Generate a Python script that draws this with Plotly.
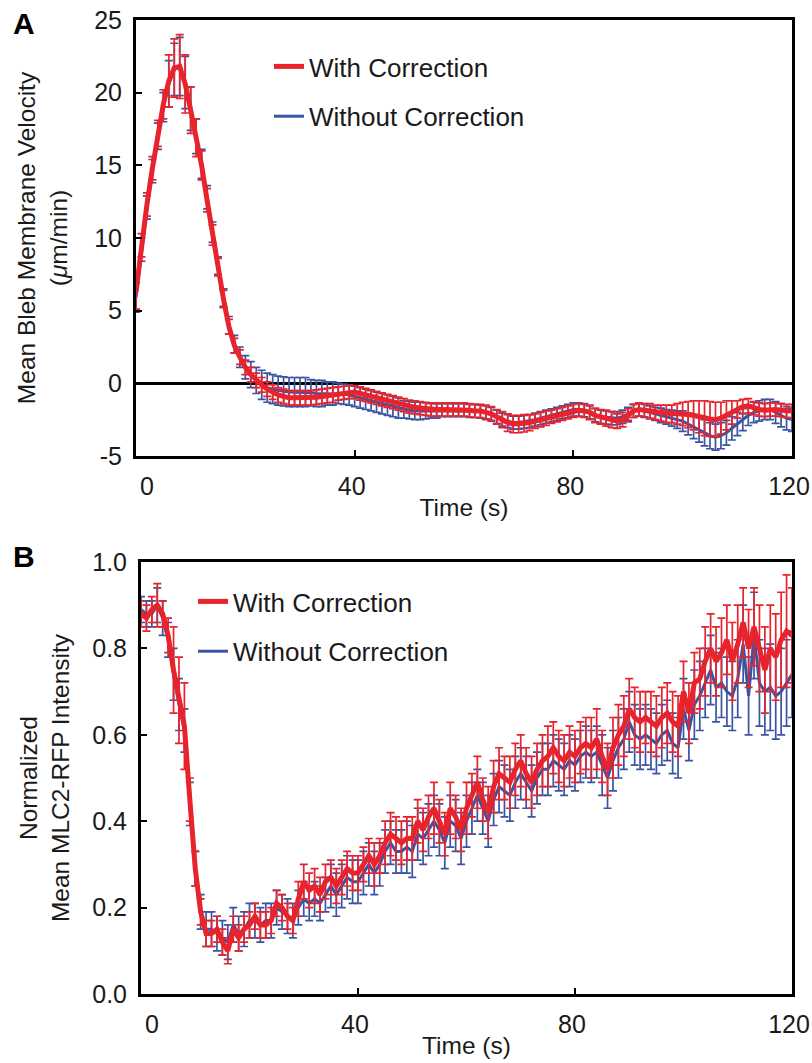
import plotly.graph_objects as go

# ---------------- DATA ----------------
time_s = list(range(0, 121))

# Panel A: mean bleb membrane velocity (um/min)
vel_with = [6.3, 9.5, 12.3, 14.8, 17.2, 19.2, 20.8, 21.7, 21.8, 20.6,
            18.8, 16.9, 15.0, 12.6, 10.2, 8.0, 5.8, 3.9, 2.6, 1.8,
            1.1, 0.6, 0.2, -0.1, -0.4, -0.6, -0.8, -0.9, -1.0, -1.0,
            -1.0, -1.0, -1.0, -0.95, -0.9, -0.85, -0.8, -0.7, -0.65, -0.6,
            -0.6, -0.7, -0.8, -0.9, -1.0, -1.1, -1.2, -1.3, -1.4, -1.5,
            -1.6, -1.65, -1.7, -1.75, -1.8, -1.8, -1.8, -1.8, -1.8, -1.8,
            -1.8, -1.85, -1.9, -1.9, -2.0, -2.1, -2.3, -2.5, -2.7, -2.8,
            -2.8, -2.75, -2.7, -2.6, -2.5, -2.4, -2.3, -2.2, -2.1, -2.0,
            -1.9, -1.85, -1.9, -2.0, -2.2, -2.3, -2.4, -2.5, -2.6, -2.5,
            -2.2, -1.9, -1.8, -1.85, -1.9, -2.0, -2.05, -2.1, -2.1, -2.1,
            -2.1, -2.15, -2.2, -2.3, -2.4, -2.45, -2.5, -2.4, -2.2, -2.0,
            -1.8, -1.6, -1.55, -1.7, -1.8, -1.85, -1.8, -1.8, -1.85, -1.9,
            -1.9]
vel_with_err = [1.2, 0.8, 0.8, 0.8, 0.9, 1.0, 1.8, 2.0, 2.2, 2.0,
                1.6, 1.3, 1.0, 0.8, 0.7, 0.6, 0.6, 0.5, 0.5, 0.5,
                0.5, 0.5, 0.5, 0.5, 0.5, 0.5, 0.5, 0.5, 0.5, 0.5,
                0.5, 0.5, 0.5, 0.5, 0.5, 0.5, 0.5, 0.45, 0.45, 0.45,
                0.45, 0.45, 0.45, 0.45, 0.45, 0.45, 0.45, 0.45, 0.45, 0.45,
                0.45, 0.45, 0.45, 0.45, 0.45, 0.45, 0.45, 0.45, 0.45, 0.45,
                0.45, 0.45, 0.45, 0.45, 0.5, 0.5, 0.5, 0.55, 0.6, 0.6,
                0.6, 0.6, 0.55, 0.5, 0.5, 0.5, 0.45, 0.45, 0.45, 0.45,
                0.45, 0.45, 0.45, 0.5, 0.5, 0.5, 0.55, 0.55, 0.5, 0.5,
                0.45, 0.45, 0.45, 0.45, 0.5, 0.5, 0.55, 0.6, 0.6, 0.7,
                0.8, 0.9, 1.0, 1.1, 1.2, 1.2, 1.2, 1.1, 1.0, 0.8,
                0.6, 0.5, 0.5, 0.45, 0.45, 0.45, 0.45, 0.45, 0.45, 0.45,
                0.45]
vel_without = [5.9, 9.2, 12.1, 14.6, 17.0, 19.0, 20.6, 21.6, 21.8, 20.7,
               18.9, 17.0, 15.1, 12.8, 10.4, 8.1, 5.9, 4.0, 2.7, 1.8,
               1.1, 0.6, 0.2, -0.1, -0.3, -0.4, -0.5, -0.55, -0.6, -0.6,
               -0.6, -0.6, -0.65, -0.7, -0.7, -0.7, -0.7, -0.7, -0.75, -0.8,
               -0.9, -1.0, -1.1, -1.2, -1.3, -1.4, -1.5, -1.6, -1.7, -1.8,
               -1.85, -1.9, -1.9, -1.9, -1.9, -1.9, -1.85, -1.85, -1.85, -1.85,
               -1.85, -1.9, -1.9, -1.95, -2.0, -2.1, -2.3, -2.5, -2.6, -2.7,
               -2.7, -2.65, -2.6, -2.5, -2.4, -2.3, -2.2, -2.1, -2.0, -1.9,
               -1.8, -1.8, -1.85, -2.0, -2.2, -2.3, -2.35, -2.4, -2.4, -2.3,
               -2.1, -1.9, -1.8, -1.9, -2.0, -2.1, -2.2, -2.3, -2.4, -2.5,
               -2.6, -2.8, -3.0, -3.2, -3.4, -3.6, -3.7, -3.6, -3.4, -3.1,
               -2.8, -2.5, -2.2, -2.0, -1.9, -1.8, -1.8, -2.0, -2.2, -2.4,
               -2.5]
vel_without_err = [1.0, 0.8, 0.8, 0.8, 0.9, 1.0, 1.6, 1.8, 2.0, 1.8,
                   1.5, 1.2, 1.0, 0.8, 0.7, 0.6, 0.6, 0.6, 0.6, 0.7,
                   0.8, 0.9, 0.9, 1.0, 1.0, 1.0, 1.0, 1.0, 1.0, 1.0,
                   1.0, 1.0, 0.9, 0.9, 0.9, 0.8, 0.8, 0.7, 0.7, 0.7,
                   0.7, 0.7, 0.7, 0.7, 0.7, 0.7, 0.7, 0.7, 0.7, 0.6,
                   0.6, 0.6, 0.6, 0.55, 0.5, 0.5, 0.45, 0.45, 0.45, 0.45,
                   0.45, 0.45, 0.45, 0.45, 0.45, 0.45, 0.45, 0.45, 0.45, 0.45,
                   0.45, 0.45, 0.45, 0.45, 0.45, 0.45, 0.45, 0.45, 0.45, 0.45,
                   0.45, 0.45, 0.45, 0.45, 0.45, 0.45, 0.45, 0.45, 0.45, 0.45,
                   0.45, 0.45, 0.45, 0.45, 0.45, 0.45, 0.5, 0.5, 0.55, 0.6,
                   0.7, 0.75, 0.8, 0.85, 0.9, 0.9, 0.9, 0.9, 0.85, 0.8,
                   0.8, 0.75, 0.7, 0.7, 0.7, 0.7, 0.7, 0.75, 0.8, 0.8,
                   0.8]

# Panel B: normalized mean MLC2-RFP intensity
mlc_with = [0.88, 0.87, 0.89, 0.90, 0.88, 0.83, 0.75, 0.68, 0.62, 0.45,
            0.29, 0.19, 0.14, 0.14, 0.15, 0.12, 0.10, 0.15, 0.13, 0.15,
            0.16, 0.18, 0.16, 0.16, 0.17, 0.21, 0.20, 0.18, 0.17, 0.22,
            0.26, 0.24, 0.25, 0.23, 0.26, 0.27, 0.25, 0.27, 0.29, 0.28,
            0.28, 0.30, 0.32, 0.30, 0.32, 0.35, 0.37, 0.36, 0.35, 0.36,
            0.36, 0.40, 0.38, 0.41, 0.43, 0.40, 0.37, 0.43, 0.41, 0.38,
            0.43, 0.46, 0.49, 0.45, 0.42, 0.48, 0.51, 0.50, 0.49, 0.52,
            0.54, 0.51, 0.49, 0.52, 0.54, 0.55, 0.57, 0.55, 0.54, 0.56,
            0.55, 0.57, 0.58, 0.57, 0.59, 0.55, 0.52, 0.57, 0.60, 0.62,
            0.66, 0.64, 0.63, 0.64, 0.63, 0.62, 0.64, 0.65, 0.63, 0.62,
            0.70, 0.65, 0.72, 0.73, 0.77, 0.80, 0.77, 0.79, 0.82, 0.77,
            0.81, 0.86, 0.80, 0.85, 0.80, 0.75, 0.80, 0.78, 0.82, 0.84,
            0.83]
mlc_with_err = [0.03, 0.03, 0.03, 0.05, 0.03, 0.04, 0.10, 0.10, 0.10, 0.05,
                0.04, 0.03, 0.03, 0.03, 0.03, 0.03, 0.03, 0.03, 0.03, 0.03,
                0.03, 0.03, 0.03, 0.03, 0.03, 0.03, 0.03, 0.03, 0.03, 0.04,
                0.04, 0.04, 0.04, 0.04, 0.04, 0.04, 0.04, 0.04, 0.04, 0.04,
                0.04, 0.04, 0.04, 0.05, 0.04, 0.05, 0.05, 0.05, 0.05, 0.05,
                0.05, 0.05, 0.05, 0.05, 0.06, 0.05, 0.05, 0.06, 0.05, 0.05,
                0.06, 0.05, 0.06, 0.05, 0.06, 0.06, 0.06, 0.05, 0.06, 0.06,
                0.06, 0.06, 0.06, 0.06, 0.06, 0.07, 0.06, 0.06, 0.06, 0.06,
                0.06, 0.06, 0.06, 0.07, 0.07, 0.06, 0.06, 0.07, 0.07, 0.07,
                0.07, 0.07, 0.07, 0.06, 0.07, 0.07, 0.07, 0.07, 0.07, 0.07,
                0.07, 0.07, 0.07, 0.07, 0.08, 0.08, 0.08, 0.08, 0.08, 0.09,
                0.09, 0.08, 0.09, 0.09, 0.10, 0.10, 0.10, 0.10, 0.11, 0.13,
                0.11]
mlc_without = [0.89, 0.88, 0.88, 0.90, 0.87, 0.82, 0.74, 0.67, 0.61, 0.44,
               0.29, 0.19, 0.15, 0.15, 0.14, 0.13, 0.12, 0.16, 0.14, 0.15,
               0.17, 0.17, 0.16, 0.17, 0.17, 0.20, 0.19, 0.18, 0.17, 0.20,
               0.22, 0.21, 0.22, 0.21, 0.23, 0.25, 0.23, 0.25, 0.27, 0.26,
               0.26, 0.28, 0.30, 0.28, 0.30, 0.33, 0.35, 0.33, 0.33, 0.34,
               0.33, 0.37, 0.36, 0.38, 0.40, 0.38, 0.35, 0.40, 0.39, 0.36,
               0.40, 0.43, 0.46, 0.43, 0.40, 0.45, 0.48, 0.47, 0.46, 0.49,
               0.51, 0.49, 0.47, 0.50, 0.52, 0.52, 0.54, 0.53, 0.52, 0.54,
               0.53, 0.55, 0.56, 0.55, 0.56, 0.53, 0.50, 0.54, 0.57, 0.59,
               0.63, 0.60, 0.59, 0.60, 0.59, 0.58, 0.60, 0.61, 0.58, 0.57,
               0.66, 0.61, 0.67, 0.69, 0.72, 0.75, 0.71, 0.72, 0.70, 0.69,
               0.73, 0.81, 0.69, 0.83, 0.72, 0.70, 0.71, 0.69, 0.70, 0.72,
               0.74]
mlc_without_err = [0.03, 0.03, 0.03, 0.04, 0.04, 0.04, 0.06, 0.06, 0.05, 0.05,
                   0.04, 0.04, 0.04, 0.04, 0.04, 0.04, 0.04, 0.04, 0.04, 0.04,
                   0.04, 0.04, 0.04, 0.04, 0.04, 0.04, 0.04, 0.04, 0.04, 0.04,
                   0.04, 0.04, 0.04, 0.04, 0.04, 0.05, 0.05, 0.05, 0.05, 0.05,
                   0.05, 0.05, 0.05, 0.05, 0.05, 0.05, 0.05, 0.05, 0.05, 0.06,
                   0.06, 0.06, 0.06, 0.06, 0.06, 0.06, 0.06, 0.06, 0.06, 0.06,
                   0.06, 0.06, 0.06, 0.06, 0.06, 0.06, 0.06, 0.06, 0.06, 0.06,
                   0.06, 0.06, 0.06, 0.06, 0.06, 0.06, 0.06, 0.06, 0.06, 0.06,
                   0.06, 0.06, 0.06, 0.06, 0.06, 0.07, 0.07, 0.07, 0.07, 0.07,
                   0.07, 0.07, 0.07, 0.07, 0.07, 0.07, 0.07, 0.07, 0.07, 0.07,
                   0.07, 0.07, 0.08, 0.08, 0.08, 0.08, 0.08, 0.08, 0.08, 0.08,
                   0.09, 0.09, 0.09, 0.10, 0.10, 0.10, 0.10, 0.10, 0.10, 0.10,
                   0.10]

x_ticks = [0, 40, 80, 120]
x_tick_text = ["\u2007\u00a0\u00a00", "40", "80", "120"]
vel_ticks = [-5, 0, 5, 10, 15, 20, 25]
vel_tick_text = ["-5", "0", "5", "10", "15", "20", "25"]
mlc_ticks = [0.0, 0.2, 0.4, 0.6, 0.8, 1.0]
mlc_tick_text = ["0.0", "0.2", "0.4", "0.6", "0.8", "1.0"]

# ---------------- STYLE ----------------
RED = "#E8232B"
BLUE = "#3A54A4"
FONT = "Liberation Sans, Arial, Helvetica, sans-serif"
TXT = "#1a1a1a"

fig = go.Figure()


def add_series(x, y, err, color, name, xa, ya, leg, rank, width, group):
    fig.add_trace(go.Scatter(
        x=x, y=y, mode="lines", name=name,
        line=dict(color=color, width=width),
        error_y=dict(type="data", array=err, visible=True, color=color,
                     thickness=1.7, width=4),
        xaxis=xa, yaxis=ya, legend=leg, legendrank=rank, legendgroup=group,
    ))


add_series(time_s, vel_without, vel_without_err, BLUE, "Without Correction", "x", "y", "legend", 2, 3, "a2")
add_series(time_s, vel_with, vel_with_err, RED, "With Correction", "x", "y", "legend", 1, 5, "a1")
add_series(time_s, mlc_without, mlc_without_err, BLUE, "Without Correction", "x2", "y2", "legend2", 2, 3, "b2")
add_series(time_s, mlc_with, mlc_with_err, RED, "With Correction", "x2", "y2", "legend2", 1, 5, "b1")

W, H = 812, 1063
LEFT_A, LEFT_B, RIGHT, TOP_A, BOT_A, TOP_B, BOT_B = 136, 141, 792, 20, 456, 562, 994
ML, MT = LEFT_A, TOP_A
MR = W - RIGHT
MB = H - BOT_B
PH = H - MT - MB
PW = W - ML - MR


def py(page_y):
    return (BOT_B - page_y) / PH


def px_(page_x):
    return (page_x - LEFT_A) / PW


axis_common = dict(
    showline=True, linecolor="black", linewidth=3, mirror=True,
    ticks="inside", ticklen=6, tickwidth=2, tickcolor="black",
    showgrid=False, automargin=False, ticklabeloverflow="allow",
    tickfont=dict(family=FONT, size=25, color=TXT),
    title_font=dict(family=FONT, size=24.5, color=TXT),
)

fig.update_layout(
    width=W, height=H,
    margin=dict(l=ML, r=MR, t=MT, b=MB, autoexpand=False),
    paper_bgcolor="white", plot_bgcolor="white",
    font=dict(family=FONT, color=TXT),
    xaxis=dict(domain=[0, 1], anchor="y", range=[0, 120],
               tickvals=x_ticks, ticktext=x_tick_text, ticklabelstandoff=6,
               ticklabelshift=-3,
               title=dict(text="Time (s)", standoff=0), zeroline=False, **axis_common),
    yaxis=dict(domain=[py(BOT_A), 1], anchor="x", range=[-5, 25],
               tickvals=vel_ticks, ticktext=vel_tick_text, ticklabelstandoff=6,
               zeroline=True, zerolinecolor="black", zerolinewidth=2.5,
               title=dict(text="Mean Bleb Membrane Velocity<br>(<i>μ</i>m/min)", standoff=20),
               **axis_common),
    xaxis2=dict(domain=[px_(LEFT_B), 1], anchor="y2", range=[0, 120],
                tickvals=x_ticks, ticktext=x_tick_text, ticklabelstandoff=6,
                ticklabelshift=-3,
                title=dict(text="Time (s)", standoff=0), zeroline=False, **axis_common),
    yaxis2=dict(domain=[0, py(TOP_B)], anchor="x2", range=[0, 1],
                tickvals=mlc_ticks, ticktext=mlc_tick_text, ticklabelstandoff=6,
                zeroline=False,
                title=dict(text="Normalized<br>Mean MLC2-RFP Intensity", standoff=16),
                **axis_common),
    legend=dict(x=px_(269), y=py(43), xanchor="left", yanchor="top",
                bgcolor="rgba(0,0,0,0)", tracegroupgap=13,
                font=dict(family=FONT, size=26, color=TXT)),
    legend2=dict(x=px_(193), y=py(578), xanchor="left", yanchor="top",
                 bgcolor="rgba(0,0,0,0)", tracegroupgap=13,
                 font=dict(family=FONT, size=26, color=TXT)),
    showlegend=True,
    annotations=[
        dict(text="<b>A</b>", xref="paper", yref="paper", x=px_(11), y=py(5),
             xanchor="left", yanchor="top", showarrow=False,
             font=dict(family=FONT, size=30, color="black")),
        dict(text="<b>B</b>", xref="paper", yref="paper", x=px_(11), y=py(538),
             xanchor="left", yanchor="top", showarrow=False,
             font=dict(family=FONT, size=30, color="black")),
    ],
)

fig.write_html("out.html", config={"displayModeBar": False},
               post_script="document.body.style.margin='0px';")
